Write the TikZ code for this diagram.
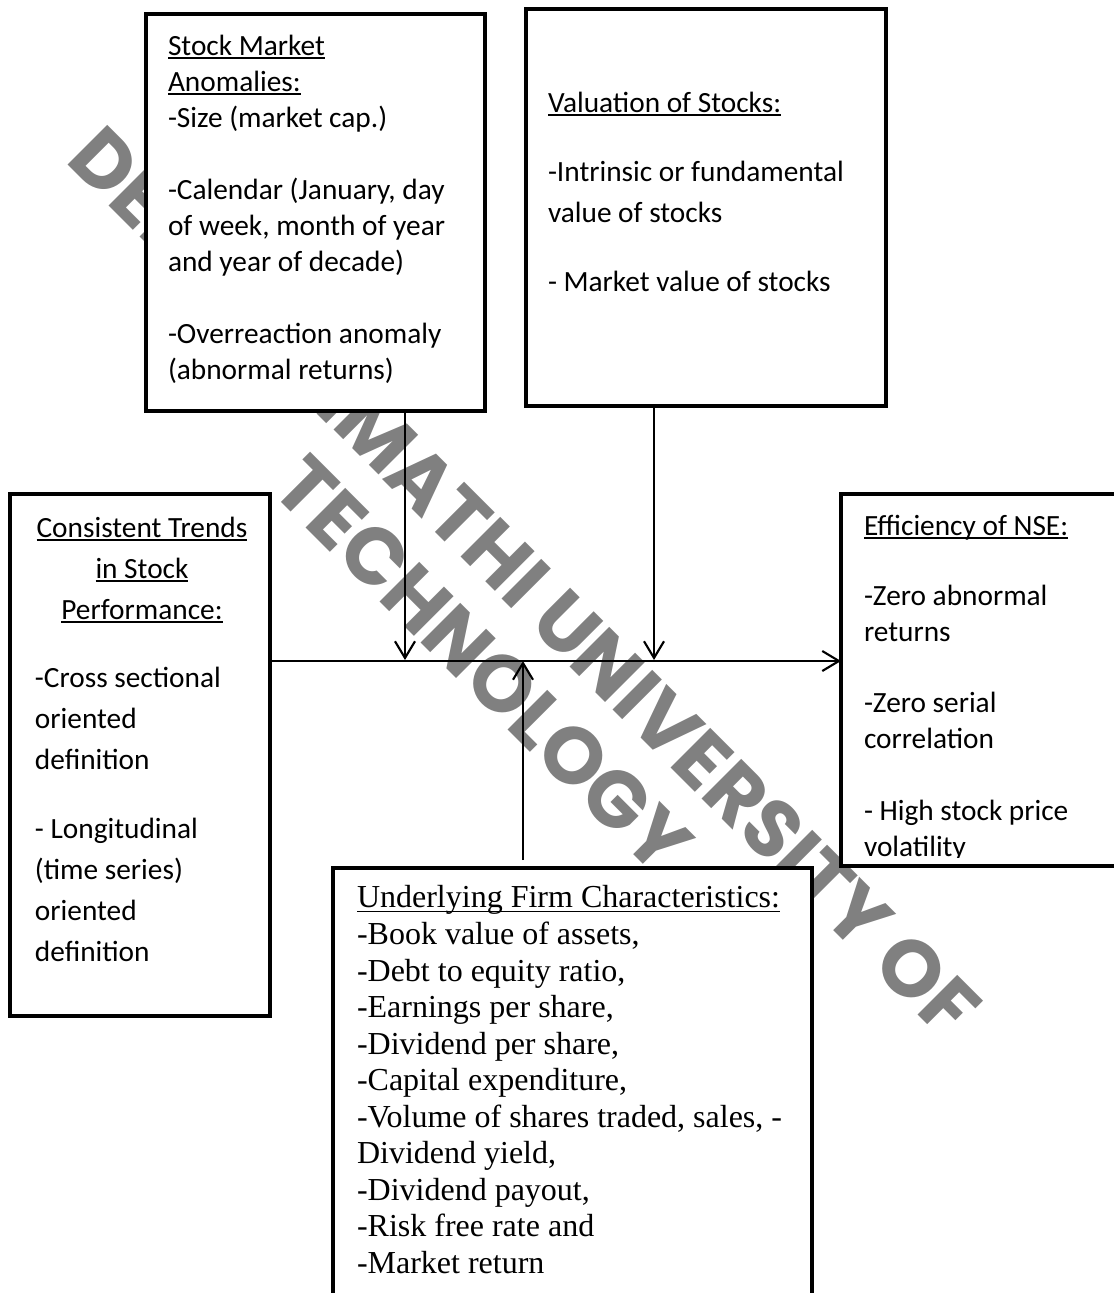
\documentclass[tikz,border=0pt]{standalone}
\usepackage{fontspec}
\setmainfont{Carlito}
\newfontfamily\timesfont{Liberation Serif}
\newfontfamily\wmfont{Poppins}
\usepackage{tikz}
\usetikzlibrary{arrows.meta}

\definecolor{wmgray}{RGB}{128,128,128}

\newsavebox{\ulbox}
\newcommand{\undl}[1]{\sbox{\ulbox}{#1}\rlap{\rule[-0.13em]{\wd\ulbox}{0.05em}}\usebox{\ulbox}}

\tikzset{
  box/.style={draw, line width=3.4pt, fill=white, inner sep=0pt, outer sep=0pt, anchor=north west},
  txt/.style={anchor=north west, inner sep=0pt, outer sep=0pt, align=left, font=\fontsize{22}{27}\selectfont},
  flow/.style={line width=1.6pt, -{Straight Barb[length=12.5pt,width=15pt]}},
  wmark/.style={text=wmgray, inner sep=0pt, rotate=-45, font=\wmfont\bfseries\fontsize{60}{72}\selectfont}
}

\begin{document}
\begin{tikzpicture}[x=0.75pt,y=0.75pt,yscale=-1,xscale=1]
    \useasboundingbox (0,0) rectangle (1114,1293);
    \clip (0,0) rectangle (1114,1293);

    % Watermark
    \node[wmark] (wmtop) at (525,582) {DEDAN KIMATHI UNIVERSITY OF};
    \node[wmark] (wmbot) at (483,665) {TECHNOLOGY};

    %Shape: Rectangle
    \node[box, minimum width=254.25pt, minimum height=297.75pt] (anom) at (146,14) {};
    %Shape: Rectangle
    \node[box, minimum width=270pt, minimum height=297.75pt] (val) at (526,9) {};
    %Shape: Rectangle
    \node[box, minimum width=195pt, minimum height=391.5pt] (trend) at (10,494) {};
    %Shape: Rectangle
    \node[box, minimum width=216.75pt, minimum height=279pt] (eff) at (841,494) {};
    %Shape: Rectangle
    \node[box, minimum width=359.25pt, minimum height=331.5pt] (firm) at (333,868) {};

    \coordinate (hub) at (540,661);
    \coordinate (ja) at (405,660);
    \coordinate (jb) at (654,660);
    \coordinate (jf) at (523,661);
    \coordinate (jf0) at (523,860);

    %Straight Lines
    \draw[flow] (trend.east |- hub) -- (eff.west |- hub);
    \draw[flow] (ja |- anom.south) -- (ja);
    \draw[flow] (jb |- val.south) -- (jb);
    \draw[flow] (jf0) -- (jf);

    % Text Node
    \node[txt] (anomtxt) at (168,29.8) {\strut\undl{Stock Market}\\\undl{Anomalies:}\\-Size (market cap.)\\[27pt]-Calendar (January, day\\of week, month of year\\and year of decade)\\[27pt]-Overreaction anomaly\\(abnormal returns)};
    % Text Node
    \node[txt, font=\fontsize{22}{30.75}\selectfont] (valtxt) at (548,83.3) {\strut\undl{Valuation of Stocks:}\\[21pt]-Intrinsic or fundamental\\value of stocks\\[21pt]- Market value of stocks};
    % Text Node
    \node[txt, align=center, anchor=north, font=\fontsize{22}{30.75}\selectfont] (trendhead) at (142,508.3) {\strut\undl{Consistent Trends}\\\undl{in Stock}\\\undl{Performance:}};
    % Text Node
    \node[txt, font=\fontsize{22}{30.75}\selectfont] (trendtxt) at (35,658.3) {\strut-Cross sectional\\oriented\\definition\\[21pt]- Longitudinal\\(time series)\\oriented\\definition};
    % Text Node
    \begin{scope}
    \clip (841,494) rectangle (1114,857);
    \node[txt] (efftxt) at (864,509.8) {\strut\undl{Efficiency of NSE:}\\[26pt]-Zero abnormal\\returns\\[26pt]-Zero serial\\correlation\\[27pt]- High stock price\\volatility};
    \end{scope}
    % Text Node
    \node[txt, font=\timesfont\fontsize{24}{27.4}\selectfont] (firmtxt) at (357,882.4) {\strut\undl{Underlying Firm Characteristics:}\\-Book value of assets,\\-Debt to equity ratio,\\-Earnings per share,\\-Dividend per share,\\-Capital expenditure,\\-Volume of shares traded, sales, -\\Dividend yield,\\-Dividend payout,\\-Risk free rate and\\-Market return};
\end{tikzpicture}
\end{document}
